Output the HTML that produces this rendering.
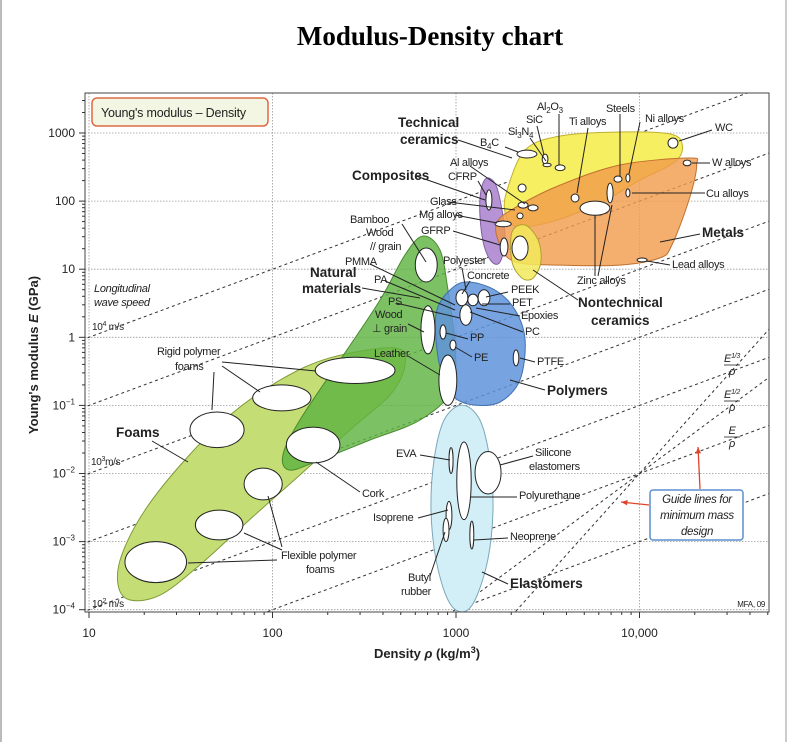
<!DOCTYPE html>
<html><head><meta charset="utf-8"><style>
html,body{margin:0;padding:0;background:#fff;}
body{width:796px;height:742px;overflow:hidden;position:relative;font-family:"Liberation Sans",sans-serif;}
svg{display:block;}
svg text{font-family:"Liberation Sans",sans-serif;}
</style></head><body>
<svg id="chart" width="796" height="742" viewBox="0 0 796 742" xmlns="http://www.w3.org/2000/svg">
<rect x="0" y="0" width="2" height="742" fill="#bbb"/>
<rect x="785" y="0" width="2" height="742" fill="#ccc"/>
<text x="430" y="45" text-anchor="middle" font-family="Liberation Serif" font-weight="bold" font-size="27" style="font-family:'Liberation Serif',serif">Modulus-Density chart</text>
<g id="grid"></g>
<g id="guides"></g>
<g id="envelopes"></g>
<g id="bubbles"></g>
<g id="leaders" stroke="#222" stroke-width="1" fill="none"></g>
<g id="labels"></g>
<g id="axes"></g>
</svg>
<script>
// ---------- data ----------
const xTicks = [10, 100, 1000, 10000];
const xTickLabels = ["10", "100", "1000", "10,000"];
const yTickExps = [3, 2, 1, 0, -1, -2, -3, -4];
const yTickLabels = ["1000", "100", "10", "1", "10|−1", "10|−2", "10|−3", "10|−4"];

const familyNames = ["Foams", "Natural materials", "Polymers", "Elastomers", "Composites", "Technical ceramics", "Metals", "Nontechnical ceramics"];
const foamsDensity = [465, 527, 437, 264, 141, 75, 40, 24.4, 16.7, 14.4, 15.1, 20.2, 33.3, 58.6, 110, 206];
const foamsModulus = [0.70, 0.39, 0.142, 0.0435, 0.0095, 0.0021, 0.00045, 0.000164, 0.000139, 0.00023, 0.00064, 0.0029, 0.0158, 0.072, 0.236, 0.50];
const naturalDensity = [661, 818, 904, 988, 951, 637, 340, 181, 124, 114, 141, 233, 385, 527];
const naturalModulus = [30.7, 19.1, 4.95, 0.77, 0.168, 0.061, 0.031, 0.0158, 0.0112, 0.0187, 0.061, 0.46, 3.5, 16.2];
const polymersDensity = [787, 927, 1148, 1630, 2100, 2380, 2230, 1740, 1270, 988, 840, 778];
const polymersModulus = [2.52, 4.95, 6.5, 4.95, 2.52, 0.91, 0.236, 0.112, 0.101, 0.129, 0.28, 0.91];
const elastomersDensity = [1080, 1350, 1530, 1590, 1490, 1270, 1080, 904, 778, 731, 759, 861];
const elastomersModulus = [0.101, 0.061, 0.0158, 0.0029, 0.00054, 0.000139, 0.0000925, 0.000139, 0.00054, 0.0029, 0.0158, 0.061];
const compositesDensity = [1475, 1650, 1780, 1850, 1740, 1570, 1420, 1350, 1370];
const compositesModulus = [218, 172, 74, 26.9, 12.8, 12.8, 22.6, 62.5, 146];
const techCeramicsDensity = [1900, 2380, 3690, 7830, 14700, 17100, 15600, 10070, 6100, 3250, 2100, 1850];
const techCeramicsModulus = [146, 562, 904, 1035, 967, 667, 375, 204, 94, 49, 43, 69];
const metalsDensity = [1670, 2230, 3690, 7830, 18600, 20500, 18600, 15000, 12900, 7830, 3690, 2100, 1740];
const metalsModulus = [49, 88, 172, 339, 430, 339, 104, 22.6, 14.6, 11.5, 11.5, 12.8, 22.6];
const nontechDensity = [2020, 2380, 2800, 2900, 2630, 2290, 2020];
const nontechModulus = [35.2, 44.6, 26.9, 12.8, 7.4, 7.4, 12.8];

const bubbleNames = ["WC","W alloys","B4C","Si3N4","SiC","Al2O3","Steels","Ni alloys","Cu alloys","Steel","Ti alloys","Zinc alloys","Ceramic","Al alloys","Al alloys 2","Al alloys 3","CFRP","Mg alloys","GFRP","Concrete","Lead alloys","Wood grain","PS wood","PP","PE","PTFE","Leather","Polyester","PEEK","PET","Epoxies","Rigid foam 1","Rigid foam 2","Rigid foam 3","Cork","Flexible foam 1","Flexible foam 2","Flexible foam 3","Polyurethane","Silicone","EVA","Isoprene","Butyl rubber","Neoprene"];
const bubbleDensityMin = [14300,17300,2150,2950,2980,3470,7260,8430,8430,6650,4240,4740,2180,2180,2470,2150,1455,1630,1740,2020,9700,600,644,818,927,2050,807,1000,1160,1320,1050,171,78,35.5,119,70,38,15.7,1010,1270,916,883,850,1190];
const bubbleDensityMax = [16200,19100,2760,3170,3300,3930,8030,8870,8870,7180,4680,6900,2410,2470,2800,2320,1570,2000,1920,2470,11000,790,768,883,1000,2200,1010,1160,1320,1530,1220,465,162,70,233,113,69,34,1210,1760,964,950,916,1250];
const bubbleModulusMin = [600,330,430,350,320,280,190,190,115,94,97,62,136,79,72,55,74,42,15.6,13.6,12.8,6.5,0.57,0.94,0.65,0.38,0.10,2.9,2.9,2.9,1.5,0.21,0.083,0.024,0.0143,0.0041,0.00106,0.00025,0.0021,0.005,0.010,0.0015,0.001,0.00078];
const bubbleModulusMax = [845,400,560,490,360,340,234,250,151,184,127,100,178,97,88,67,146,51,28.7,30.7,14.6,20.5,2.9,1.52,0.91,0.65,0.55,5,4.3,5,3,0.51,0.2,0.08,0.048,0.012,0.0029,0.001,0.029,0.021,0.024,0.0039,0.0022,0.002];

const speedLineIntercepts = [-1, -2, -3, -4, -5, -6, -7];   // log10(E/rho)
const halfPowerIntercepts = [-10];                          // logE-2logRho
const thirdPowerIntercepts = [-14];                         // logE-3logRho

// ---------- scales ----------
const X0 = 85, X1 = 769, Y0 = 93, Y1 = 612;
function xs(rho){ return 89 + (Math.log10(rho) - 1) * 183.5; }
function ys(E){ return 133 + (3 - Math.log10(E)) * 68.1; }
const NS = "http://www.w3.org/2000/svg";
function mk(tag, attrs, parent){ const e = document.createElementNS(NS, tag); for (const k in attrs) e.setAttribute(k, attrs[k]); parent.appendChild(e); return e; }

const grid = document.getElementById('grid');
const axes = document.getElementById('axes');
xTicks.forEach((t, i) => {
  const l = mk('line', {x1: xs(t), x2: xs(t), y1: Y0, y2: Y1, stroke: '#999', 'stroke-width': 0.8, 'stroke-dasharray': '1.5 1.5'}, grid);
  
  
});
yTickExps.forEach((e) => {
  const l = mk('line', {x1: X0, x2: X1, y1: ys(Math.pow(10, e)), y2: ys(Math.pow(10, e)), stroke: '#999', 'stroke-width': 0.8, 'stroke-dasharray': '1.5 1.5'}, grid);
  
  
});

const guides = document.getElementById('guides');
const clip = mk('clipPath', {id: 'plotclip'}, document.getElementById('chart'));
mk('rect', {x: X0, y: Y0, width: X1 - X0, height: Y1 - Y0}, clip);
guides.setAttribute('clip-path', 'url(#plotclip)');
function guideLine(slope, c, name){
  const L1 = 0.9, L2 = 4.8;
  const l = mk('line', {x1: xs(Math.pow(10, L1)), y1: ys(Math.pow(10, c + slope * L1)), x2: xs(Math.pow(10, L2)), y2: ys(Math.pow(10, c + slope * L2)), stroke: '#333', 'stroke-width': 1, 'stroke-dasharray': '3 3'}, guides);
  
  
}
speedLineIntercepts.forEach(c => guideLine(1, c, 'e-over-rho-line'));
halfPowerIntercepts.forEach(c => guideLine(2, c, 'e-half-over-rho-line'));
thirdPowerIntercepts.forEach(c => guideLine(3, c, 'e-third-over-rho-line'));

function smoothPath(px){
  const n = px.length; let d = `M${px[0][0]},${px[0][1]}`;
  for (let i = 0; i < n; i++){
    const p0 = px[(i - 1 + n) % n], p1 = px[i], p2 = px[(i + 1) % n], p3 = px[(i + 2) % n];
    const c1 = [p1[0] + (p2[0] - p0[0]) / 6, p1[1] + (p2[1] - p0[1]) / 6];
    const c2 = [p2[0] - (p3[0] - p1[0]) / 6, p2[1] - (p3[1] - p1[1]) / 6];
    d += ` C${c1[0].toFixed(1)},${c1[1].toFixed(1)} ${c2[0].toFixed(1)},${c2[1].toFixed(1)} ${p2[0].toFixed(1)},${p2[1].toFixed(1)}`;
  }
  return d + 'Z';
}
const env = document.getElementById('envelopes');
function envelope(dens, mods, fill, stroke, op, name){
  const pts = dens.map((r, i) => [xs(r), ys(mods[i])]);
  const p = mk('path', {d: smoothPath(pts), fill: fill, 'fill-opacity': op, stroke: stroke, 'stroke-width': 1}, env);
  
  
}
envelope(foamsDensity, foamsModulus, '#c4dd74', '#7f9a3a', 1, 'foams-envelope');
envelope(naturalDensity, naturalModulus, '#5fb342', '#4a8a30', 0.82, 'natural-materials-envelope');
envelope(polymersDensity, polymersModulus, '#5f93dc', '#3f6fb0', 0.85, 'polymers-envelope');
envelope(elastomersDensity, elastomersModulus, '#d2eef7', '#7aa8b8', 1, 'elastomers-envelope');
envelope(compositesDensity, compositesModulus, '#b693d4', '#8060a0', 1, 'composites-envelope');
envelope(techCeramicsDensity, techCeramicsModulus, '#f6ef62', '#c0b030', 1, 'technical-ceramics-envelope');
envelope(metalsDensity, metalsModulus, '#f19a4a', '#c07030', 0.8, 'metals-envelope');
envelope(nontechDensity, nontechModulus, '#f2ea5a', '#b0a030', 0.85, 'nontechnical-ceramics-envelope');

const bub = document.getElementById('bubbles');
bubbleNames.forEach((n, i) => {
  const xa = xs(bubbleDensityMin[i]), xb = xs(bubbleDensityMax[i]);
  const ya = ys(bubbleModulusMax[i]), yb = ys(bubbleModulusMin[i]);
  const e = mk('ellipse', {cx: (xa + xb) / 2, cy: (ya + yb) / 2, rx: Math.max((xb - xa) / 2, 1.2), ry: Math.max((yb - ya) / 2, 1.2), fill: '#fff', stroke: '#222', 'stroke-width': 1}, bub);
  
  
});

const leaders = document.getElementById('leaders');
const leaderSegs = [[458,140,512,158],[416,176,485,200],[362,288,420,298],[152,441,188,462],[545,390,510,380],[508,584,482,572],[700,234,660,242],[578,300,533,270],
[712,130,679,141],[710,163,692,163],[705,193,632,193],[670,265,647,261],[595,276,595,215],[598,276,612,205],[620,114,620,176],[640,122,629,174],[588,128,577,193],[559,114,559,165],[537,126,544,155],[530,138,546,161],[505,147,518,152],
[470,166,525,204],[478,181,486,195],[448,202,515,210],[455,215,497,223],[453,231,500,245],[402,224,426,262],[370,264,455,305],[385,281,455,310],[396,303,460,318],[408,324,424,332],[408,356,440,375],[462,268,466,290],[470,281,462,294],[508,292,486,297],[510,304,482,304],[520,316,476,308],[523,332,470,312],[468,339,446,333],[472,357,455,347],[535,362,520,358],
[222,362,316,371],[222,366,260,392],[214,372,212,410],[420,455,450,460],[533,456,500,465],[517,497,471,497],[418,518,448,510],[508,538,474,540],[360,492,316,462],[282,547,268,496],[282,550,244,533],[277,560,188,563],[430,576,445,532]];
leaderSegs.forEach(s => {
  const l = mk('line', {x1: s[0], y1: s[1], x2: s[2], y2: s[3]}, leaders);
  
  
});

const labels = document.getElementById('labels');
function label(x, y, txt, opts, name){
  opts = opts || {};
  const t = mk('text', {x: x, y: y, 'font-size': opts.size || 11, fill: '#222', 'font-weight': opts.bold ? 'bold' : 'normal', 'font-style': opts.italic ? 'italic' : 'normal', 'text-anchor': opts.anchor || 'start', 'letter-spacing': opts.ls || '-0.3'}, labels);
  t.innerHTML = txt;
  
  
}
const B = {bold: true, size: 13.5, ls: '0'};
label(398,127,'Technical',B,'technical-ceramics-label'); label(400,144,'ceramics',B,'technical-ceramics-label-2');
label(352,180,'Composites',B,'composites-label');
label(310,277,'Natural',B,'natural-materials-label'); label(302,293,'materials',B,'natural-materials-label-2');
label(116,437,'Foams',B,'foams-label');
label(547,395,'Polymers',B,'polymers-label');
label(510,588,'Elastomers',B,'elastomers-label');
label(702,237,'Metals',B,'metals-label');
label(578,307,'Nontechnical',B,'nontechnical-ceramics-label'); label(591,325,'ceramics',B,'nontechnical-ceramics-label-2');
const sm = [
 [537,110,'Al<tspan font-size="8" dy="3">2</tspan><tspan dy="-3">O</tspan><tspan font-size="8" dy="3">3</tspan>','al2o3-label'],
 [526,123,'SiC','sic-label'],
 [508,135,'Si<tspan font-size="8" dy="3">3</tspan><tspan dy="-3">N</tspan><tspan font-size="8" dy="3">4</tspan>','si3n4-label'],
 [480,146,'B<tspan font-size="8" dy="3">4</tspan><tspan dy="-3">C</tspan>','b4c-label'],
 [606,112,'Steels','steels-label'],[569,125,'Ti alloys','ti-alloys-label'],[645,122,'Ni alloys','ni-alloys-label'],
 [715,131,'WC','wc-label'],[712,166,'W alloys','w-alloys-label'],[706,197,'Cu alloys','cu-alloys-label'],[672,268,'Lead alloys','lead-alloys-label'],[577,284,'Zinc alloys','zinc-alloys-label'],
 [450,166,'Al alloys','al-alloys-label'],[448,180,'CFRP','cfrp-label'],[430,205,'Glass','glass-label'],[419,218,'Mg alloys','mg-alloys-label'],[421,234,'GFRP','gfrp-label'],
 [350,223,'Bamboo','bamboo-label'],[366,236,'Wood','wood-label'],[370,250,'// grain','wood-grain-label'],[345,265,'PMMA','pmma-label'],[374,283,'PA','pa-label'],
 [388,305,'PS','ps-label'],[375,318,'Wood','wood-perp-label'],[372,332,'⊥ grain','perp-grain-label'],[374,357,'Leather','leather-label'],
 [443,264,'Polyester','polyester-label'],[467,279,'Concrete','concrete-label'],[511,293,'PEEK','peek-label'],[512,306,'PET','pet-label'],[521,319,'Epoxies','epoxies-label'],[525,335,'PC','pc-label'],
 [470,341,'PP','pp-label'],[474,361,'PE','pe-label'],[537,365,'PTFE','ptfe-label'],
 [157,355,'Rigid polymer','rigid-foams-label'],[175,370,'foams','rigid-foams-label-2'],[396,457,'EVA','eva-label'],[535,456,'Silicone','silicone-label'],[529,470,'elastomers','silicone-label-2'],
 [362,497,'Cork','cork-label'],[519,499,'Polyurethane','polyurethane-label'],[373,521,'Isoprene','isoprene-label'],[510,540,'Neoprene','neoprene-label'],
 [281,559,'Flexible polymer','flexible-foams-label'],[306,573,'foams','flexible-foams-label-2'],[408,581,'Butyl','butyl-label'],[401,595,'rubber','butyl-label-2']
];
sm.forEach(s => label(s[0], s[1], s[2], {}, s[3]));
label(94,292,'Longitudinal',{italic:true},'wave-speed-label');
label(94,306,'wave speed',{italic:true},'wave-speed-label-2');
label(92,330,'10<tspan font-size="7" dy="-4">4</tspan><tspan dy="4"> m/s</tspan>',{size:10},'speed-1e4-label');
label(91,465,'10<tspan font-size="7" dy="-4">3</tspan><tspan dy="4">m/s</tspan>',{size:10},'speed-1e3-label');
label(92,607,'10<tspan font-size="7" dy="-4">2</tspan><tspan dy="4"> m/s</tspan>',{size:10},'speed-1e2-label');
label(765,607,'MFA, 09',{size:8,anchor:'end'},'credit-label');
function frac(x, y, num, name){
  label(x, y, num, {italic:true, size:11, anchor:'middle'}, name);
  const l = mk('line', {x1: x - 8, x2: x + 8, y1: y + 3, y2: y + 3, stroke: '#222', 'stroke-width': 0.8}, labels);
  
  
  label(x, y + 13, 'ρ', {italic:true, size:11, anchor:'middle'}, name + '-rho');
}
frac(732, 362, 'E<tspan font-size="7" dy="-4">1/3</tspan>', 'e-third-rho-label');
frac(732, 398, 'E<tspan font-size="7" dy="-4">1/2</tspan>', 'e-half-rho-label');
frac(732, 434, 'E', 'e-rho-label');

const lg = mk('rect', {x: 92, y: 98, width: 176, height: 28, rx: 5, fill: '#f3f6e2', stroke: '#de6a46', 'stroke-width': 1.5}, labels);


label(101,117,"Young's modulus – Density",{size:12.5, ls:'-0.2'},'chart-legend-text');
const gb = mk('rect', {x: 650, y: 490, width: 93, height: 50, rx: 3, fill: '#fff', stroke: '#5b8fd0', 'stroke-width': 1.5}, labels);


label(697,503,'Guide lines for',{italic:true,size:11.5,anchor:'middle'},'guide-box-text-1');
label(697,519,'minimum mass',{italic:true,size:11.5,anchor:'middle'},'guide-box-text-2');
label(697,535,'design',{italic:true,size:11.5,anchor:'middle'},'guide-box-text-3');
[[700,489,698,447],[649,505,621,502]].forEach(a => {
  const l = mk('line', {x1: a[0], y1: a[1], x2: a[2], y2: a[3], stroke: '#e0442a', 'stroke-width': 1.3}, labels);
  
  
  const ang = Math.atan2(a[3] - a[1], a[2] - a[0]);
  const p1 = [a[2] - 7 * Math.cos(ang - 0.4), a[3] - 7 * Math.sin(ang - 0.4)], p2 = [a[2] - 7 * Math.cos(ang + 0.4), a[3] - 7 * Math.sin(ang + 0.4)];
  const h = mk('polygon', {points: `${a[2]},${a[3]} ${p1[0]},${p1[1]} ${p2[0]},${p2[1]}`, fill: '#e0442a'}, labels);
  
  
});

const fr = mk('rect', {x: X0, y: Y0, width: X1 - X0, height: Y1 - Y0, fill: 'none', stroke: '#444', 'stroke-width': 1}, axes);


for (let d = 1; d <= 4; d++){
  for (let m = 1; m <= 9; m++){
    const v = Math.pow(10, d) * m; const x = xs(v);
    if (x > X1) continue;
    const len = m === 1 ? 6 : 3;
    const t = mk('line', {x1: x, x2: x, y1: Y1, y2: Y1 + len, stroke: '#333', 'stroke-width': 1}, axes);
    
    
  }
}
for (let d = -4; d <= 3; d++){
  for (let m = 1; m <= 9; m++){
    const v = Math.pow(10, d) * m; const y = ys(v);
    if (y < Y0) continue;
    const len = m === 1 ? 6 : 3;
    const t = mk('line', {x1: X0 - len, x2: X0, y1: y, y2: y, stroke: '#333', 'stroke-width': 1}, axes);
    
    
  }
}
xTicks.forEach((t, i) => {
  const e = mk('text', {x: xs(t), y: 637, 'text-anchor': 'middle', 'font-size': 12, fill: '#222'}, axes);
  e.textContent = xTickLabels[i];
  
  
});
yTickExps.forEach((ex, i) => {
  const e = mk('text', {x: 75, y: ys(Math.pow(10, ex)) + 4, 'text-anchor': 'end', 'font-size': 12, fill: '#222'}, axes);
  const parts = yTickLabels[i].split('|');
  if (parts.length === 2) e.innerHTML = parts[0] + '<tspan font-size="8" dy="-5">' + parts[1] + '</tspan>';
  else e.textContent = parts[0];
  
  
});
const xt = mk('text', {x: 427, y: 658, 'text-anchor': 'middle', 'font-size': 13, 'font-weight': 'bold', fill: '#222'}, axes);
xt.innerHTML = 'Density <tspan font-style="italic">ρ</tspan> (kg/m<tspan font-size="9" dy="-5">3</tspan><tspan dy="5">)</tspan>';


const yt = mk('text', {x: 0, y: 0, 'text-anchor': 'middle', 'font-size': 13, 'font-weight': 'bold', fill: '#222', transform: 'translate(38,355) rotate(-90)'}, axes);
yt.innerHTML = "Young's modulus <tspan font-style='italic'>E</tspan> (GPa)";


</script>
</body></html>
